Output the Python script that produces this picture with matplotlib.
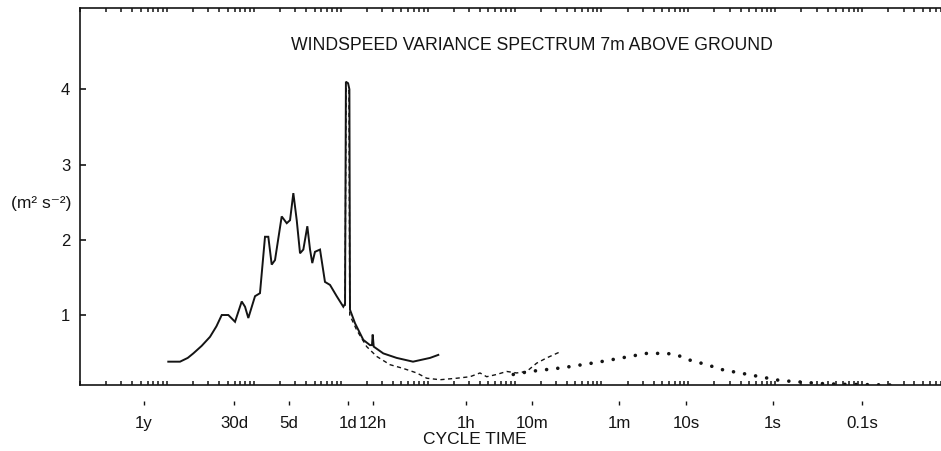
import numpy as np
import matplotlib
matplotlib.use("Agg")
import matplotlib.pyplot as plt
from matplotlib.ticker import LogLocator, NullFormatter
from matplotlib.transforms import blended_transform_factory

# ---------------- data (x = log10 of frequency in Hz) ----------------
solid_logf = [-6.984, -6.849, -6.760, -6.696, -6.600, -6.504, -6.430, -6.369,
              -6.293, -6.216, -6.139, -6.101, -6.063, -5.986, -5.929, -5.871,
              -5.833, -5.794, -5.756, -5.679, -5.621, -5.583, -5.545, -5.506,
              -5.468, -5.430, -5.384, -5.353, -5.327, -5.296, -5.238, -5.181,
              -5.123, -5.046, -4.970, -4.950, -4.940, -4.915, -4.900, -4.893,
              -4.835, -4.740, -4.663, -4.640, -4.632, -4.620, -4.510, -4.356,
              -4.168, -3.972, -3.877]
solid_val = [0.38, 0.38, 0.43, 0.49, 0.59, 0.71, 0.85, 1.00,
             1.00, 0.91, 1.18, 1.11, 0.96, 1.25, 1.29, 2.04,
             2.04, 1.67, 1.73, 2.31, 2.22, 2.26, 2.62, 2.26,
             1.82, 1.87, 2.18, 1.87, 1.69, 1.84, 1.87, 1.44,
             1.40, 1.25, 1.11, 1.15, 4.10, 4.08, 4.00, 1.07,
             0.89, 0.67, 0.60, 0.60, 0.74, 0.58, 0.49, 0.43,
             0.38, 0.43, 0.47]

dashed_logf = [-4.950, -4.938, -4.905, -4.896, -4.816, -4.701, -4.586, -4.433,
               -4.280, -4.125, -4.010, -3.857, -3.665, -3.512, -3.397, -3.320,
               -3.205, -3.090, -2.975, -2.860, -2.745, -2.630, -2.476]
dashed_val = [1.12, 4.02, 3.98, 1.00, 0.80, 0.58, 0.45, 0.34,
              0.29, 0.23, 0.16, 0.14, 0.16, 0.18, 0.23, 0.18,
              0.21, 0.25, 0.23, 0.25, 0.36, 0.43, 0.51]

dotted_logf = [-3.014, -2.822, -2.442, -2.054, -1.671, -1.479, -1.249, -1.133,
               -0.980, -0.788, -0.597, -0.405, -0.175, 0.055, 0.285, 0.516,
               0.746, 1.053, 1.321]
dotted_val = [0.21, 0.25, 0.30, 0.37, 0.45, 0.49, 0.49, 0.47,
              0.40, 0.34, 0.27, 0.23, 0.18, 0.13, 0.11, 0.09,
              0.08, 0.075, 0.07]

tick_labels = ["1y", "30d", "5d", "1d", "12h", "1h", "10m", "1m", "10s", "1s", "0.1s"]
tick_logf = [-7.264, -6.228, -5.595, -4.916, -4.628, -3.558, -2.799, -1.797,
             -1.026, -0.025, 0.999]
ytick_vals = [1, 2, 3, 4]

title = "WINDSPEED VARIANCE SPECTRUM 7m ABOVE GROUND"
xlabel = "CYCLE TIME"
ylabel = "(m\u00b2 s\u207b\u00b2)"

# ---------------- figure ----------------
INK = "#141414"
plt.rcParams["font.family"] = ["Liberation Sans", "DejaVu Sans"]
fig = plt.figure(figsize=(9.41, 4.51), dpi=100)
W, H = 941, 451
ax = fig.add_axes([80 / W, (H - 385) / H, 869 / W, 377 / H])

ax.set_xscale("log")
ax.set_xlim(1e-8, 1e2)
ax.set_ylim(0.07, 5.08)

f = lambda v: 10 ** np.asarray(v, dtype=float)
ax.plot(f(solid_logf), solid_val, color=INK, lw=1.4, solid_joinstyle="miter")
ax.plot(f(dashed_logf), dashed_val, color=INK, lw=1.0, linestyle=(0, (3, 2.5)))
ax.plot(f(dotted_logf), dotted_val, color=INK, lw=2.6, linestyle=(0, (0.01, 3.1)),
        dash_capstyle="round")

for s in ["left", "bottom", "top"]:
    ax.spines[s].set_linewidth(1.2)
    ax.spines[s].set_color(INK)
ax.spines["right"].set_visible(False)

# y ticks
ax.set_yticks(ytick_vals)
ax.set_yticklabels([str(v) for v in ytick_vals])
ax.tick_params(axis="y", which="major", direction="in", length=4, width=1.2,
               pad=7, labelsize=12, colors=INK)

# x ticks
ax.set_xticks(f(tick_logf))
ax.set_xticklabels(tick_labels)
ax.tick_params(axis="x", which="major", length=0, pad=22, labelsize=12.2,
               colors=INK)
ax.xaxis.set_minor_locator(LogLocator(base=10, subs=np.arange(1, 10), numticks=200))
ax.xaxis.set_minor_formatter(NullFormatter())
ax.tick_params(axis="x", which="minor", direction="in", top=True, bottom=True,
               length=3, width=1.1, colors=INK)

# detached small major tick marks below the axis
tr = blended_transform_factory(ax.transData, ax.transAxes)
ax.plot(f(tick_logf), [-0.048] * len(tick_logf), linestyle="none", marker="|",
        markersize=3, markeredgewidth=1, color=INK, transform=tr, clip_on=False)

fig.text(532 / W, 1 - 46 / H, title, ha="center", va="center", fontsize=12.7,
         color=INK)
fig.text(475 / W, 1 - 440 / H, xlabel, ha="center", va="center", fontsize=12.5,
         color=INK)
fig.text(41 / W, 1 - 203 / H, ylabel, ha="center", va="center", fontsize=12.5,
         color=INK)

fig.savefig("out.png", dpi=100)
